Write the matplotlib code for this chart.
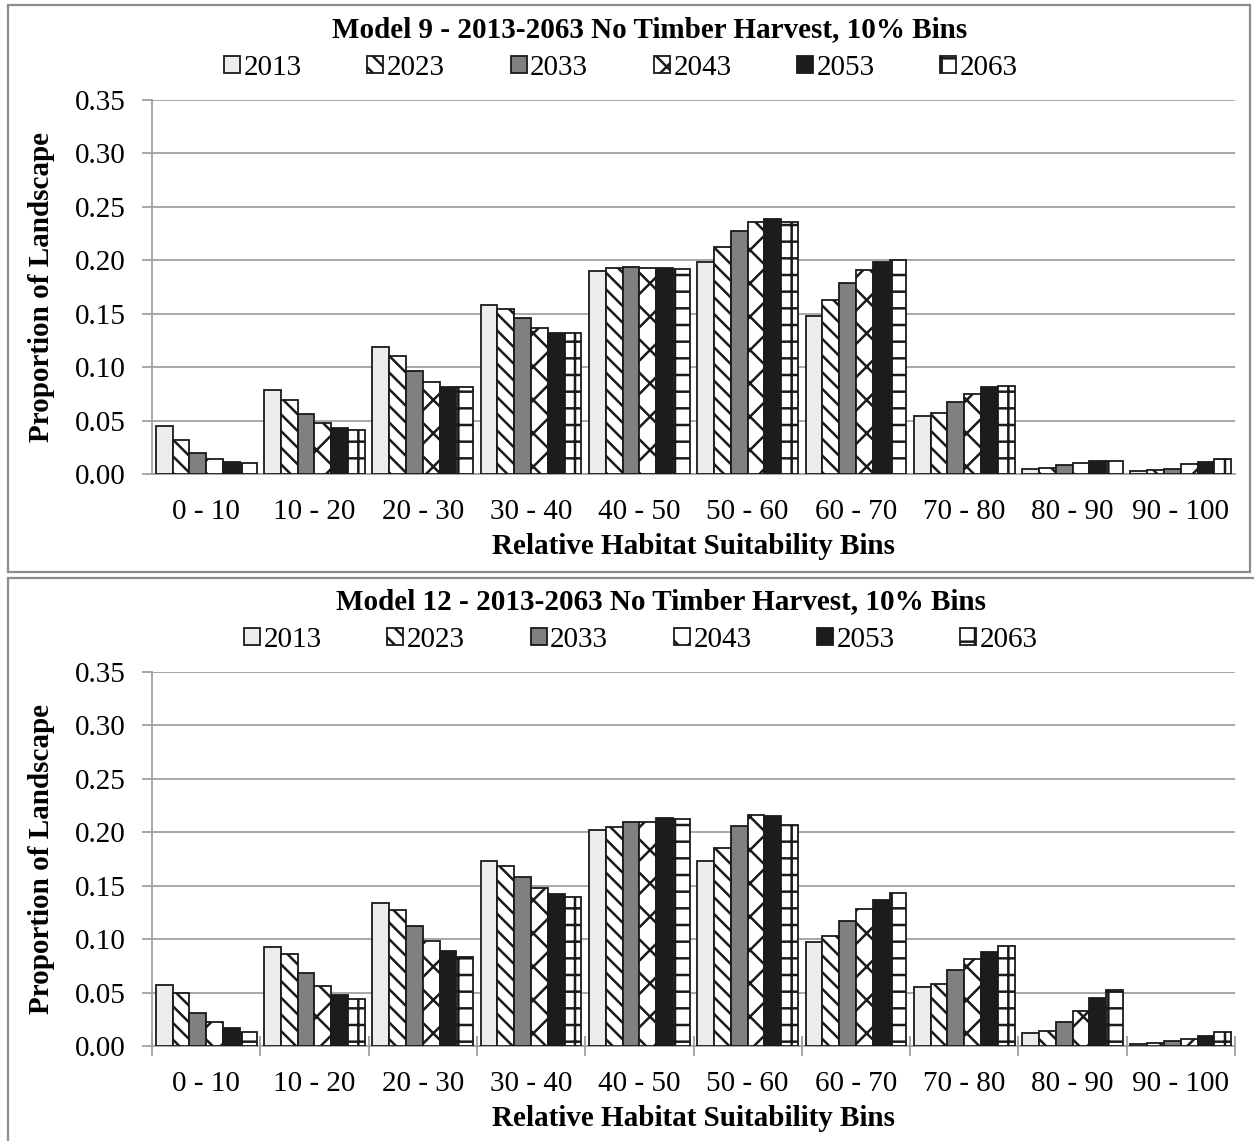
import numpy as np
import matplotlib
matplotlib.use("Agg")
import matplotlib.pyplot as plt
from matplotlib.patches import Rectangle

plt.rcParams['font.family'] = ['Liberation Serif', 'DejaVu Serif']
plt.rcParams['hatch.linewidth'] = 1.8
plt.rcParams['hatch.color'] = 'black'

bins = ['0 - 10', '10 - 20', '20 - 30', '30 - 40', '40 - 50',
        '50 - 60', '60 - 70', '70 - 80', '80 - 90', '90 - 100']
years = ['2013', '2023', '2033', '2043', '2053', '2063']

# Model 9, one list per year
m9_2013 = [0.045, 0.079, 0.119, 0.158, 0.190, 0.198, 0.148, 0.054, 0.005, 0.003]
m9_2023 = [0.032, 0.069, 0.110, 0.154, 0.193, 0.212, 0.163, 0.057, 0.006, 0.004]
m9_2033 = [0.020, 0.056, 0.096, 0.146, 0.194, 0.227, 0.179, 0.067, 0.008, 0.005]
m9_2043 = [0.014, 0.048, 0.086, 0.137, 0.193, 0.236, 0.191, 0.075, 0.010, 0.009]
m9_2053 = [0.011, 0.043, 0.081, 0.132, 0.193, 0.239, 0.198, 0.081, 0.012, 0.011]
m9_2063 = [0.010, 0.041, 0.081, 0.132, 0.192, 0.236, 0.200, 0.082, 0.012, 0.014]

# Model 12
m12_2013 = [0.057, 0.093, 0.134, 0.173, 0.202, 0.173, 0.097, 0.055, 0.012, 0.002]
m12_2023 = [0.050, 0.086, 0.127, 0.168, 0.205, 0.185, 0.103, 0.058, 0.014, 0.003]
m12_2033 = [0.031, 0.068, 0.112, 0.158, 0.210, 0.206, 0.117, 0.071, 0.022, 0.005]
m12_2043 = [0.022, 0.056, 0.098, 0.148, 0.210, 0.216, 0.128, 0.081, 0.033, 0.007]
m12_2053 = [0.017, 0.048, 0.089, 0.142, 0.213, 0.215, 0.137, 0.088, 0.045, 0.009]
m12_2063 = [0.013, 0.044, 0.083, 0.139, 0.212, 0.207, 0.143, 0.094, 0.052, 0.013]

m9 = [m9_2013, m9_2023, m9_2033, m9_2043, m9_2053, m9_2063]
m12 = [m12_2013, m12_2023, m12_2033, m12_2043, m12_2053, m12_2063]

face = ['#ececec', 'white', '#808080', 'white', '#1c1c1c', 'white']
hatch = [None, '\\\\', None, 'x', None, '+']

W, H = 1254, 1141
fig = plt.figure(figsize=(W / 100, H / 100), dpi=100)

def fx(px):
    return px / W

def fy(py):
    return 1 - py / H

# panel borders
for (x0, y0, x1, y1) in [(8, 5, 1250, 572), (8, 578, 1256, 1145)]:
    fig.add_artist(Rectangle((fx(x0), fy(y1)), fx(x1 - x0), (y1 - y0) / H,
                             transform=fig.transFigure, fill=False,
                             edgecolor='#8c8c8c', lw=1.6))

grid_c = '#a0a0a0'
bw = 0.155
xpos = np.arange(len(bins))

def panel(base_px, data, title, title_x, leg_x, xticks_marks):
    ax = fig.add_axes([fx(152), fy(base_px), fx(1083), 374 / H])
    for i, vals in enumerate(data):
        ax.bar(xpos + (i - 2.5) * bw, vals, bw, color=face[i], hatch=hatch[i],
               edgecolor='#1a1a1a', lw=1.3, label=years[i], zorder=3)
    ax.set_xlim(-0.5, 9.5)
    ax.set_ylim(0, 0.35)
    ax.set_yticks(np.arange(0, 0.351, 0.05))
    ax.set_yticklabels(['%.2f' % v for v in np.arange(0, 0.351, 0.05)])
    ax.yaxis.grid(True, color=grid_c, lw=1.3, zorder=0)
    for s in ['top', 'right']:
        ax.spines[s].set_visible(False)
    ax.spines['left'].set_color(grid_c)
    ax.spines['bottom'].set_color(grid_c)
    ax.spines['left'].set_linewidth(1.3)
    ax.spines['bottom'].set_linewidth(1.3)
    ax.tick_params(axis='y', direction='out', length=7, width=1.3,
                   color=grid_c, labelsize=21, pad=12)
    ax.set_xticks(xpos)
    ax.set_xticklabels(bins)
    ax.tick_params(axis='x', which='major', length=0, labelsize=21, pad=18)
    if xticks_marks:
        ax.set_xticks(np.arange(-0.5, 10, 1), minor=True)
        ax.tick_params(axis='x', which='minor', direction='inout', length=14,
                       width=1.3, color=grid_c)
    ax.set_ylabel('Proportion of Landscape', fontsize=21, fontweight='bold',
                  labelpad=14)
    ax.set_xlabel('Relative Habitat Suitability Bins', fontsize=21,
                  fontweight='bold', labelpad=6)
    top_px = base_px - 374
    fig.text(fx(title_x), fy(top_px - 70), title, fontsize=21,
             fontweight='bold', ha='center', va='center')
    fig.legend(*ax.get_legend_handles_labels(), loc='center',
               bbox_to_anchor=(fx(leg_x), fy(top_px - 32)), ncol=6,
               frameon=False, fontsize=21, handlelength=0.55,
               handleheight=0.55, handletextpad=0.12, columnspacing=2.25,
               borderpad=0)
    return ax

panel(474, m9, 'Model 9 - 2013-2063 No Timber Harvest, 10% Bins', 650, 621, False)
panel(1046, m12, 'Model 12 - 2013-2063 No Timber Harvest, 10% Bins', 661, 641, True)

fig.savefig('out.png', dpi=100)
